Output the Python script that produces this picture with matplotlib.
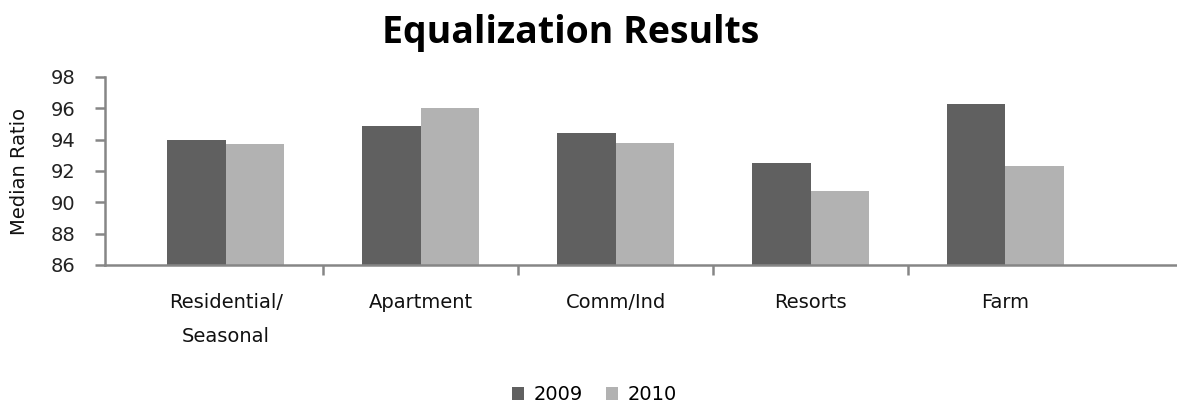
import matplotlib.pyplot as plt
import numpy as np

categories = ["Residential/\nSeasonal", "Apartment", "Comm/Ind", "Resorts", "Farm"]
ratio_2009 = [94.0, 94.9, 94.4, 92.5, 96.3]
ratio_2010 = [93.7, 96.0, 93.8, 90.7, 92.3]
years = ["2009", "2010"]
yticks = [86, 88, 90, 92, 94, 96, 98]

axis_grey = "#868686"
colors = ["#606060", "#b2b2b2"]

fig = plt.figure(figsize=(11.77, 4.05), dpi=100)
ax = fig.add_axes([0.0892, 0.3457, 0.9108, 0.4642])

x = np.arange(len(categories))
width = 0.3
ax.bar(x - width / 2, ratio_2009, width, color=colors[0], label=years[0])
ax.bar(x + width / 2, ratio_2010, width, color=colors[1], label=years[1])

ax.set_ylim(86, 98)
ax.set_xlim(-0.62, 4.88)
ax.set_yticks(yticks)
ax.set_xticks(x)
ax.set_xticklabels(categories, linespacing=2.0)
ax.set_xticks(np.arange(0.5, len(categories) - 0.5), minor=True)

for side in ["top", "right"]:
    ax.spines[side].set_visible(False)
for side in ["left", "bottom"]:
    ax.spines[side].set_color(axis_grey)
    ax.spines[side].set_linewidth(1.8)

ax.tick_params(axis="y", direction="out", length=7, width=1.8, color=axis_grey,
               labelsize=14, labelcolor="#222222", pad=14)
ax.tick_params(axis="x", which="major", length=0, labelsize=14, labelcolor="#111111", pad=20)
ax.tick_params(axis="x", which="minor", direction="out", length=7, width=1.8, color=axis_grey)
for lbl in ax.get_xticklabels():
    lbl.set_verticalalignment("top")

ax.set_ylabel("Median Ratio", fontsize=14, color="#111111", labelpad=16)

fig.text(0.485, 0.918, "Equalization Results", ha="center", va="center",
         fontsize=27, fontweight="bold", family="Open Sans")

fig.legend(loc="center", bbox_to_anchor=(0.505, 0.025), ncol=2, frameon=False,
           fontsize=14, handlelength=0.6, handleheight=0.6, handletextpad=0.5,
           columnspacing=1.2)

fig.savefig("out.png", dpi=100)
